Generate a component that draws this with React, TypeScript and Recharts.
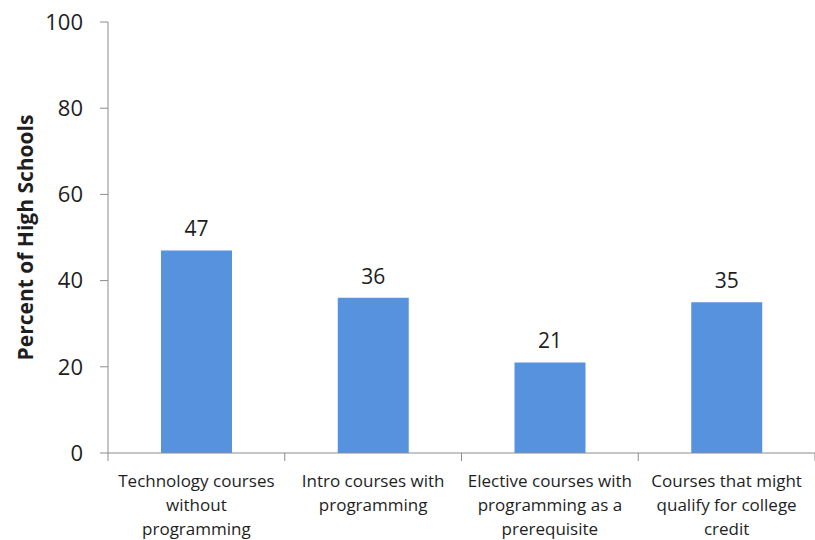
import React from 'react';
import { Bar, BarChart, LabelList, XAxis, YAxis } from 'recharts';

const categories = [
  'Technology courses\nwithout\nprogramming',
  'Intro courses with\nprogramming',
  'Elective courses with\nprogramming as a\nprerequisite',
  'Courses that might\nqualify for college\ncredit',
];
const percents = [47, 36, 21, 35];
const yTicks = [0, 20, 40, 60, 80, 100];

const data = categories.map((name, i) => ({ name, value: percents[i] }));

const FONT = '"Open Sans", sans-serif';
const TEXT = '#1e1e1e';
const AXIS = '#8c8c8c';
const BAR = '#5792df';

// category label plus tick marks at the band edges (Excel style)
function CategoryTick({ x, y, payload, index }: any) {
  const lines = String(payload.value).split('\n');
  const half = payload.offset || 0;
  return (
    <g>
      <line x1={x - half} y1={y} x2={x - half} y2={y + 8} stroke={AXIS} />
      {index === categories.length - 1 && (
        <line x1={x + half} y1={y} x2={x + half} y2={y + 8} stroke={AXIS} />
      )}
      <text x={x} y={y} textAnchor="middle" fontFamily={FONT} fontSize={17} fill={TEXT}>
        {lines.map((line, i) => (
          <tspan key={i} x={x} dy={i === 0 ? 34 : 24}>
            {line}
          </tspan>
        ))}
      </text>
    </g>
  );
}

function YLabel({ viewBox }: any) {
  const cx = viewBox.x + 25;
  const cy = viewBox.y + viewBox.height / 2;
  return (
    <text
      x={cx}
      y={cy}
      transform={`rotate(-90 ${cx} ${cy})`}
      textAnchor="middle"
      dominantBaseline="central"
      fontFamily={FONT}
      fontSize={21}
      fontWeight="bold"
      fill={TEXT}
    >
      Percent of High Schools
    </text>
  );
}

export default function App() {
  return (
    <div style={{ position: 'absolute', left: 0, top: 0, background: '#fff' }}>
      <BarChart
        width={815}
        height={540}
        data={data}
        margin={{ top: 22, right: 0, bottom: 0, left: 0 }}
      >
        <XAxis
          dataKey="name"
          height={87}
          stroke={AXIS}
          tickLine={false}
          tickSize={0}
          tickMargin={0}
          interval={0}
          tick={<CategoryTick />}
        />
        <YAxis
          width={108}
          domain={[0, 100]}
          ticks={yTicks}
          tickSize={8}
          tickMargin={17}
          stroke={AXIS}
          tick={{ fontFamily: FONT, fontSize: 22, fill: TEXT }}
          label={<YLabel />}
        />
        <Bar dataKey="value" fill={BAR} barSize={71} isAnimationActive={false}>
          <LabelList
            dataKey="value"
            position="top"
            offset={14}
            fontFamily={FONT}
            fontSize={21}
            fill={TEXT}
          />
        </Bar>
      </BarChart>
    </div>
  );
}
